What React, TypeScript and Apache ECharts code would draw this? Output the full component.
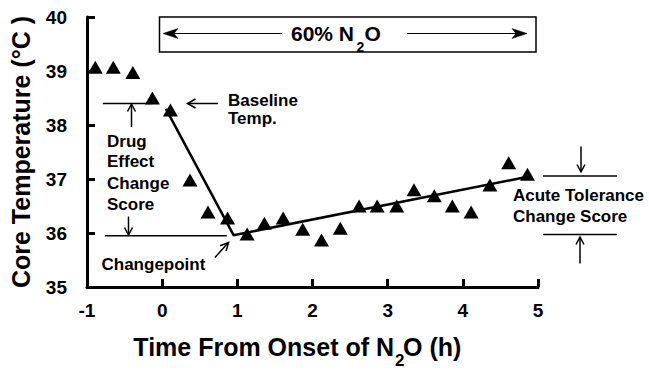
import React, { useEffect, useRef } from "react";
import * as echarts from "echarts";

// Observed core temperatures (triangles)
const timeH = [-0.89, -0.65, -0.39, -0.13, 0.11, 0.37, 0.61, 0.87, 1.13, 1.36, 1.61, 1.87, 2.12, 2.37, 2.62, 2.86, 3.12, 3.35, 3.62, 3.86, 4.11, 4.36, 4.61, 4.86];
const coreTemp = [39.07, 39.07, 38.97, 38.5, 38.28, 36.98, 36.39, 36.28, 35.98, 36.18, 36.28, 36.07, 35.87, 36.09, 36.5, 36.5, 36.5, 36.8, 36.69, 36.5, 36.39, 36.89, 37.3, 37.09];

// Fitted two-segment (changepoint) model
const fitT = [0.05, 0.95, 4.86];
const fitTemp = [38.3, 35.96, 37.04];

// Reference lines
const baselineTemp = 38.4;
const baselineSpan = [-0.79, -0.13];
const changepointTemp = 35.95;
const changepointSpan = [-0.76, 0.86];

// Axes
const xMin = -1, xMax = 5, xStep = 1;
const yMin = 35, yMax = 40, yStep = 1;

const FONT = "Liberation Sans";

function txt(text: string, x: number, y: number, size: number, align: string = "left") {
  return {
    type: "text",
    x,
    y,
    silent: true,
    z: 10,
    style: {
      text,
      fill: "#000",
      fontFamily: FONT,
      fontWeight: "bold",
      fontSize: size,
      textAlign: align,
      textVerticalAlign: "middle",
      align,
      verticalAlign: "middle",
    },
  };
}

function seg(x1: number, y1: number, x2: number, y2: number, w = 1.5) {
  return {
    type: "line",
    silent: true,
    z: 10,
    shape: { x1, y1, x2, y2 },
    style: { stroke: "#000", lineWidth: w },
  };
}

function vhead(points: number[][]) {
  return {
    type: "polyline",
    silent: true,
    z: 10,
    shape: { points },
    style: { stroke: "#000", lineWidth: 1.5, fill: null },
  };
}

function fhead(points: number[][]) {
  return {
    type: "polygon",
    silent: true,
    z: 10,
    shape: { points },
    style: { fill: "#000", stroke: "#000", lineWidth: 0.5 },
  };
}

export default function App() {
  const ref = useRef<HTMLDivElement>(null);
  useEffect(() => {
    const chart = echarts.init(ref.current!, null, { renderer: "svg" });
    const axisFont = { fontFamily: FONT, fontWeight: "bold", color: "#000", fontSize: 19 };
    const blackLine = { color: "#000", width: 3 };

    const graphic: any[] = [
      // N2O box
      {
        type: "rect",
        silent: true,
        z: 10,
        shape: { x: 159.5, y: 17, width: 376.5, height: 35 },
        style: { fill: "rgba(0,0,0,0)", stroke: "#000", lineWidth: 1.5 },
      },
      seg(170, 33.5, 282, 33.5, 1.2),
      fhead([[163, 33.5], [178, 28.5], [174, 33.5], [178, 38.5]]),
      seg(407, 33.5, 520, 33.5, 1.2),
      fhead([[527, 33.5], [512, 28.5], [516, 33.5], [512, 38.5]]),
      txt("60% N", 354, 33.5, 21, "right"),
      txt("2", 356.5, 46.5, 14, "left"),
      txt("O", 364.5, 33.5, 21, "left"),

      // Baseline annotation
      seg(131.5, 105, 131.5, 127),
      vhead([[127.5, 111.5], [131.5, 104], [135.5, 111.5]]),
      seg(188, 103.5, 218, 103.5),
      vhead([[195.5, 99], [187.5, 103.5], [195.5, 108]]),
      txt("Baseline", 228, 100, 17),
      txt("Temp.", 228, 118.5, 17),

      // Drug effect change score
      txt("Drug", 107, 141, 17),
      txt("Effect", 107, 161.5, 17),
      txt("Change", 107, 183, 17),
      txt("Score", 107, 204, 17),
      seg(128.5, 216.5, 128.5, 234),
      vhead([[124.5, 227.5], [128.5, 235], [132.5, 227.5]]),

      // Changepoint
      txt("Changepoint", 101.5, 264.5, 17),
      seg(215, 257.5, 227.5, 243.5),
      vhead([[226.1, 251.1], [228.5, 242.5], [220.1, 245.7]]),

      // Acute tolerance change score
      seg(543, 176, 617, 176),
      seg(543, 234.5, 617, 234.5),
      seg(581, 146.5, 581, 171),
      vhead([[577, 164.5], [581, 172], [585, 164.5]]),
      seg(580, 238, 580, 263.5),
      vhead([[576, 244.5], [580, 237], [584, 244.5]]),
      txt("Acute Tolerance", 513, 195, 17),
      txt("Change Score", 513, 216.5, 17),

      // X axis title with subscript
      txt("Time From Onset of N", 394, 346.5, 25, "right"),
      txt("2", 395, 360, 17, "left"),
      txt("O (h)", 403, 346.5, 25, "left"),
    ];

    const option: any = {
      animation: false,
      backgroundColor: "#fff",
      grid: {
        left: 87,
        top: 17,
        width: 451,
        height: 270,
        containLabel: false,
        outerBoundsMode: "none",
      },
      xAxis: {
        type: "value",
        min: xMin,
        max: xMax,
        interval: xStep,
        axisLine: { show: true, onZero: false, lineStyle: blackLine },
        axisTick: { show: true, inside: true, length: 8, lineStyle: blackLine },
        axisLabel: { ...axisFont, margin: 14 },
        splitLine: { show: false },
      },
      yAxis: {
        type: "value",
        min: yMin,
        max: yMax,
        interval: yStep,
        name: "Core Temperature (°C )",
        nameLocation: "middle",
        nameGap: 54,
        nameRotate: 90,
        nameTextStyle: { fontFamily: FONT, fontWeight: "bold", color: "#000", fontSize: 25 },
        axisLine: { show: true, onZero: false, lineStyle: blackLine },
        axisTick: { show: true, inside: true, length: 8, lineStyle: blackLine },
        axisLabel: { ...axisFont, margin: 20 },
        splitLine: { show: false },
      },
      series: [
        {
          type: "line",
          data: fitT.map((t, i) => [t, fitTemp[i]]),
          symbol: "none",
          lineStyle: { color: "#000", width: 2.5 },
          z: 2,
          silent: true,
        },
        {
          type: "line",
          data: baselineSpan.map((t) => [t, baselineTemp]),
          symbol: "none",
          lineStyle: { color: "#000", width: 1.5 },
          z: 2,
          silent: true,
        },
        {
          type: "line",
          data: changepointSpan.map((t) => [t, changepointTemp]),
          symbol: "none",
          lineStyle: { color: "#000", width: 1.5 },
          z: 2,
          silent: true,
        },
        {
          type: "scatter",
          data: timeH.map((t, i) => [t, coreTemp[i]]),
          symbol: "triangle",
          symbolSize: [15, 13],
          itemStyle: { color: "#000", opacity: 1 },
          z: 5,
          silent: true,
        },
      ],
      graphic,
    };
    chart.setOption(option);
    return () => chart.dispose();
  }, []);
  return (
    <div
      ref={ref}
      style={{ width: 649, height: 371, position: "absolute", left: 0, top: 0, background: "#fff" }}
    />
  );
}
